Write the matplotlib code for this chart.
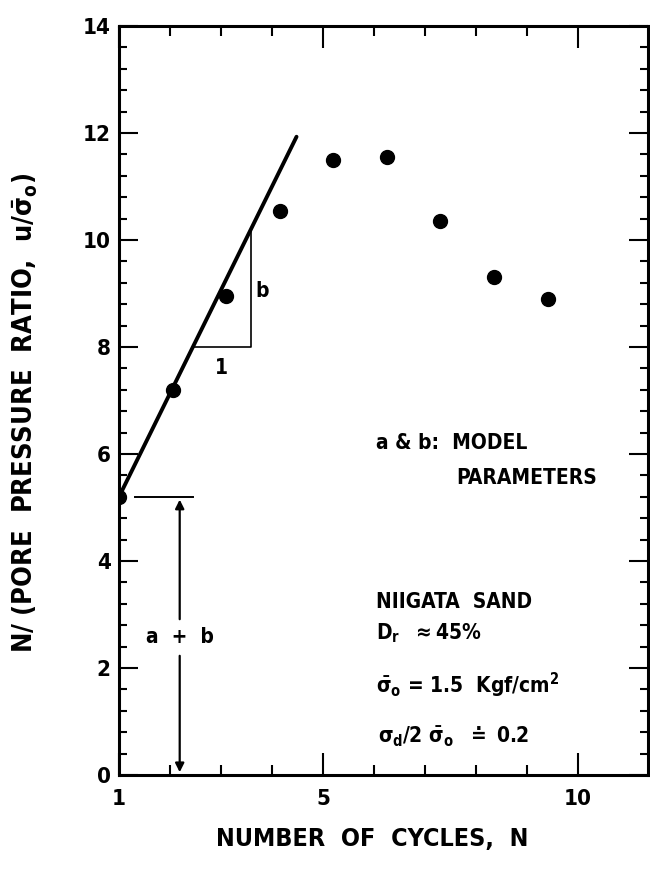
import matplotlib
matplotlib.use("Agg")
import matplotlib.pyplot as plt
from matplotlib.ticker import FixedLocator, MultipleLocator

plt.rcParams['font.family'] = ['DejaVu Sans']
plt.rcParams['font.stretch'] = 'condensed'
plt.rcParams['font.weight'] = 'bold'
plt.rcParams['mathtext.fontset'] = 'dejavusans'
plt.rcParams['mathtext.default'] = 'bf'

# values
cycles = [1.0, 2.05, 3.1, 4.15, 5.2, 6.25, 7.3, 8.35, 9.4]
ratio = [5.2, 7.2, 8.95, 10.55, 11.5, 11.55, 10.35, 9.3, 8.9]

fit_x = [1.0, 4.48]
fit_y = [5.2, 11.93]

tri_x = [2.48, 3.58]
tri_y0 = 8.0

xticks_major = [1, 5, 10]
xticks_minor = [2, 3, 4, 6, 7, 8, 9]
yticks_major = [0, 2, 4, 6, 8, 10, 12, 14]

fig = plt.figure(figsize=(6.5, 8.71), dpi=100)
ax = fig.add_axes([119/650, 96/871, 529/650, 749/871])

ax.plot(cycles, ratio, 'o', color='black', markersize=10)
ax.plot(fit_x, fit_y, color='black', lw=2.8, solid_capstyle='round')

# slope triangle
slope = (fit_y[1] - fit_y[0]) / (fit_x[1] - fit_x[0])
tri_top = fit_y[0] + slope * (tri_x[1] - fit_x[0])
ax.plot([tri_x[0], tri_x[1], tri_x[1]], [tri_y0, tri_y0, tri_top], color='black', lw=1.2)
ax.text(3.01, 7.6, '1', fontsize=15, ha='center', va='center')
ax.text(3.8, 9.05, 'b', fontsize=15, ha='center', va='center')

# a + b bracket
ax.plot([1.31, 2.46], [5.2, 5.2], color='black', lw=1.4)
ax.annotate('', xy=(2.19, 5.2), xytext=(2.19, 2.86),
            arrowprops=dict(arrowstyle='-|>', color='black', lw=1.6, mutation_scale=13))
ax.annotate('', xy=(2.19, 0.0), xytext=(2.19, 2.28),
            arrowprops=dict(arrowstyle='-|>', color='black', lw=1.6, mutation_scale=13))
ax.text(2.19, 2.58, 'a  +  b', fontsize=15, ha='center', va='center')

# notes
ax.text(6.04, 6.2, 'a & b:  MODEL', fontsize=15, ha='left', va='center')
ax.text(7.62, 5.55, 'PARAMETERS', fontsize=15, ha='left', va='center')
ax.text(6.04, 3.23, 'NIIGATA  SAND', fontsize=15, ha='left', va='center')
ax.text(6.04, 2.65, r'D$_r$  $\approx$45%', fontsize=15, ha='left', va='center')
ax.text(6.04, 1.68, r'$\bar{\sigma}_o$ = 1.5  Kgf/cm$^2$', fontsize=15, ha='left', va='center')
ax.text(6.08, 0.71, r'$\sigma_d$/2 $\bar{\sigma}_o$  $\doteq$ 0.2', fontsize=15, ha='left', va='center')

ax.set_xlim(1, 11.37)
ax.set_ylim(0, 14)
ax.xaxis.set_major_locator(FixedLocator(xticks_major))
ax.xaxis.set_minor_locator(FixedLocator(xticks_minor))
ax.yaxis.set_major_locator(FixedLocator(yticks_major))
ax.yaxis.set_minor_locator(MultipleLocator(0.4))

ax.tick_params(which='both', direction='in', top=True, right=True, width=1.5, colors='black')
ax.tick_params(axis='x', which='major', length=16, labelsize=16, pad=10)
ax.tick_params(axis='x', which='minor', length=7)
ax.tick_params(axis='y', which='major', length=14, labelsize=16, pad=6)
ax.tick_params(axis='y', which='minor', length=6)
for lab in ax.get_xticklabels() + ax.get_yticklabels():
    lab.set_fontweight('bold')

for side in ['left', 'bottom', 'top', 'right']:
    ax.spines[side].set_linewidth(2.2)

ax.set_xlabel('NUMBER  OF  CYCLES,  N', fontsize=18, fontweight='bold')
ax.set_ylabel(r'N/ (PORE  PRESSURE  RATIO,  u/$\bar{\sigma}_o$)', fontsize=19.5,
              fontweight='bold')
ax.xaxis.set_label_coords(0.478, -0.07)
ax.yaxis.set_label_coords(-0.15, 0.484)

fig.savefig('out.png', dpi=100)
